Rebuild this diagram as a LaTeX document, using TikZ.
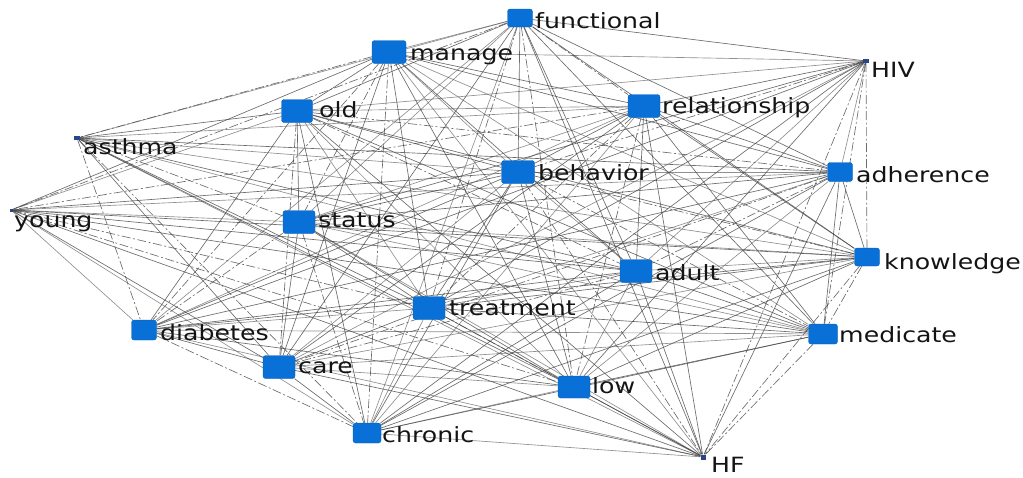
\documentclass[tikz,border=0pt]{standalone}
\usepackage{fontspec}
\setmainfont{DejaVu Sans}
\usetikzlibrary{backgrounds}
\definecolor{nodeblue}{RGB}{8,112,214}
\definecolor{dotblue}{RGB}{40,70,140}
\definecolor{edgegray}{RGB}{70,70,70}
\newcommand{\wlab}[1]{\scalebox{1.2}[1]{#1}}
\begin{document}
\begin{tikzpicture}[x=1pt,y=-1pt,
  sq/.style={fill=nodeblue, draw=nodeblue!85!black, line width=0.3pt, rounded corners=2.5pt, inner sep=0pt},
  big/.style={sq, minimum width=32pt, minimum height=23pt},
  mid/.style={sq, minimum width=26pt, minimum height=20pt},
  dot/.style={fill=dotblue, draw=none, inner sep=0pt, minimum width=5pt, minimum height=4pt},
  lab/.style={anchor=base west, inner sep=0pt, text=black!92, font=\fontsize{21}{24}\selectfont},
  edge/.style={draw=edgegray, line width=0.65pt, opacity=0.8},
  dedge/.style={edge, dash pattern=on 9pt off 2.5pt on 2pt off 2.5pt},
  sedge/.style={edge, opacity=0.6}]
\useasboundingbox (0,0) rectangle (1023,477);
% nodes
\node[mid, minimum width=25pt, minimum height=18pt] (functional) at (520,18) {};
\node[big, minimum width=34pt] (manage) at (389,52) {};
\node[dot, minimum width=6pt] (HIV) at (866,61) {};
\node[big, minimum width=31pt] (old) at (297,111) {};
\node[big] (relationship) at (644,106) {};
\node[dot, minimum width=6pt] (asthma) at (77,138) {};
\node[big, minimum width=33pt] (behavior) at (518,172) {};
\node[mid, minimum width=25pt, minimum height=19pt] (adherence) at (840,172) {};
\node[dot, minimum width=3pt, minimum height=3pt] (young) at (11,210) {};
\node[big] (status) at (299,222) {};
\node[mid, minimum width=25pt, minimum height=18pt] (knowledge) at (867,257) {};
\node[big] (adult) at (636,271) {};
\node[big] (treatment) at (429,308) {};
\node[mid, minimum width=25pt] (diabetes) at (144,330) {};
\node[mid, minimum width=29pt] (medicate) at (823,334) {};
\node[big] (care) at (279,367) {};
\node[big, minimum height=22pt] (low) at (574,387) {};
\node[mid, minimum width=28pt] (chronic) at (367,433) {};
\node[dot, minimum width=5pt, minimum height=5pt] (HF) at (703,457) {};
% labels
\node[lab] (functional-l) at (535,28) {\wlab{functional}};
\node[lab] (manage-l) at (410,60) {\wlab{manage}};
\node[lab] (HIV-l) at (871,77) {\wlab{HIV}};
\node[lab] (old-l) at (319,117) {\wlab{old}};
\node[lab] (relationship-l) at (662,113) {\wlab{relationship}};
\node[lab] (asthma-l) at (83,154) {\wlab{asthma}};
\node[lab] (behavior-l) at (538,180) {\wlab{behavior}};
\node[lab] (adherence-l) at (856,182) {\wlab{adherence}};
\node[lab] (young-l) at (14,227) {\wlab{young}};
\node[lab] (status-l) at (318,227) {\wlab{status}};
\node[lab] (knowledge-l) at (884,269) {\wlab{knowledge}};
\node[lab] (adult-l) at (655,280) {\wlab{adult}};
\node[lab] (treatment-l) at (449,315) {\wlab{treatment}};
\node[lab] (diabetes-l) at (160,340) {\wlab{diabetes}};
\node[lab] (medicate-l) at (839,342) {\wlab{medicate}};
\node[lab] (care-l) at (298,373) {\wlab{care}};
\node[lab] (low-l) at (592,393) {\wlab{low}};
\node[lab] (chronic-l) at (382,442) {\wlab{chronic}};
\node[lab] (HF-l) at (711,472) {\wlab{HF}};
% edges
\begin{pgfonlayer}{background}
\foreach \a [count=\i] in {functional,manage,HIV,old,relationship,asthma,behavior,adherence,young,status,knowledge,adult,treatment,diabetes,medicate,care,low,chronic,HF}{
  \foreach \b [count=\j] in {functional,manage,HIV,old,relationship,asthma,behavior,adherence,young,status,knowledge,adult,treatment,diabetes,medicate,care,low,chronic,HF}{
    \ifnum\j>\i
      \pgfmathtruncatemacro\noedge{(\i==6 && \j==9) || (\i==3 && \j==9) || (\i==3 && \j==6)}
      \ifnum\noedge=0
      \pgfmathtruncatemacro\k{mod(\i*7+\j*5,4)}
      \ifnum\k=0 \path[dedge] (\a) -- (\b);
      \else\ifnum\k=1 \path[sedge] (\a) -- (\b);
      \else \path[edge] (\a) -- (\b);
      \fi\fi
      \fi
    \fi
  }
}
\end{pgfonlayer}
\end{tikzpicture}
\end{document}
